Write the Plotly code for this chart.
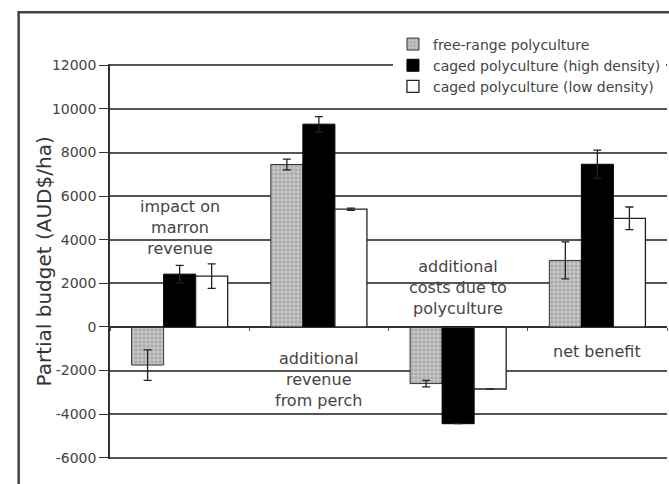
import plotly.graph_objects as go

categories = ["impact on marron revenue", "additional revenue from perch",
              "additional costs due to polyculture", "net benefit"]
cat_labels = ["impact on<br>marron<br>revenue", "additional<br>revenue<br>from perch",
              "additional<br>costs due to<br>polyculture", "net benefit"]
series_names = ["free-range polyculture", "caged polyculture (high density)",
                "caged polyculture (low density)"]
y_title = "Partial budget (AUD$/ha)"
free_range = [-1750, 7450, -2600, 3050]
free_range_err = [700, 250, 150, 850]
caged_high = [2420, 9300, -4440, 7460]
caged_high_err = [400, 350, 0, 650]
caged_low = [2330, 5400, -2850, 4980]
caged_low_err = [560, 50, 0, 520]
y_ticks = [-6000, -4000, -2000, 0, 2000, 4000, 6000, 8000, 10000, 12000]

FONT = "DejaVu Sans, Verdana, sans-serif"
ERR = dict(type="data", color="#222", thickness=1.3, width=4)

fig = go.Figure()
fig.add_trace(go.Bar(
    name=series_names[0], x=categories, y=free_range,
    marker=dict(color="#bdbdbd", line=dict(color="#333", width=1),
                pattern=dict(shape=".", fgcolor="#888", bgcolor="#c4c4c4", size=4, solidity=0.4)),
    error_y=dict(array=free_range_err, **ERR)))
fig.add_trace(go.Bar(
    name=series_names[1], x=categories, y=caged_high,
    marker=dict(color="#000000", line=dict(color="#000", width=1)),
    error_y=dict(array=caged_high_err, **ERR)))
fig.add_trace(go.Bar(
    name=series_names[2], x=categories, y=caged_low,
    marker=dict(color="#ffffff", line=dict(color="#222", width=1.3)),
    error_y=dict(array=caged_low_err, **ERR)))

label_y = [4580, -2430, 1790, -1150]
for c, lab, ly in zip(categories, cat_labels, label_y):
    fig.add_annotation(x=c, y=ly, text=lab, showarrow=False,
                       font=dict(family=FONT, size=16, color="#444"))

# y-axis title placed as rotated text
fig.add_annotation(xref="paper", yref="paper", x=-0.1185, y=0.5, text=y_title,
                   textangle=-90, showarrow=False, xanchor="center", yanchor="middle",
                   font=dict(family=FONT, size=20, color="#333"))

# outer frame of the figure
fig.add_shape(type="rect", xref="paper", yref="paper", x0=-0.164, x1=1.02, y0=-0.08, y1=1.131,
              line=dict(color="#444", width=2.5), fillcolor="rgba(0,0,0,0)", layer="below")

zero_pos = 6060 / 18120

fig.update_layout(
    width=669, height=484,
    margin=dict(l=110, r=2, t=64, b=25),
    paper_bgcolor="white", plot_bgcolor="white",
    barmode="group", bargap=0.31, bargroupgap=0,
    font=dict(family=FONT, color="#333"),
    showlegend=True,
    legend=dict(x=0.508, y=1.09, xanchor="left", yanchor="top", bgcolor="white",
                font=dict(family=FONT, size=14, color="#444"),
                itemwidth=30, tracegroupgap=0),
    xaxis=dict(showticklabels=False, showgrid=False, showline=True, linecolor="#333",
               linewidth=1.3, anchor="free", position=zero_pos,
               ticks="outside", tickson="boundaries", ticklen=3, tickcolor="#555"),
    yaxis=dict(range=[-6060, 12060], tickvals=y_ticks, ticktext=[str(v) for v in y_ticks],
               showgrid=True, gridcolor="#555", gridwidth=1.6,
               zeroline=True, zerolinecolor="#333", zerolinewidth=1.3,
               showline=True, linecolor="#333", linewidth=1.5,
               ticks="outside", ticklen=9, tickcolor="#333",
               tickfont=dict(family=FONT, size=14, color="#444")),
)
fig.write_html("out.html", config={"displayModeBar": False},
               post_script="document.body.style.margin='0';")
